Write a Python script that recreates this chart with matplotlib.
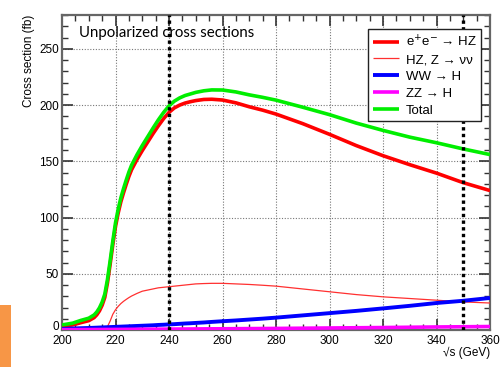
import numpy as np
import matplotlib
matplotlib.use("Agg")
import matplotlib.pyplot as plt
import matplotlib.transforms as mtransforms
from matplotlib.ticker import MultipleLocator
from matplotlib.patches import Rectangle

# Centre-of-mass energy grid (GeV)
sqrt_s = [200, 204, 207, 210, 212, 213, 214, 215, 216, 217,
          218, 219, 220, 221, 222, 223, 224, 225, 226, 228,
          230, 232, 234, 236, 238, 240, 242, 244, 246, 248,
          250, 253, 256, 260, 265, 270, 275, 280, 290, 300,
          310, 320, 330, 340, 350, 360]

# Cross sections (fb)
xs_hz = [3.2, 4.5, 6.5, 8.3, 11.0, 13.5, 17.0, 22.0, 29.0, 42.0,
         58.5, 76.0, 92.0, 104.0, 114.0, 122.0, 129.5, 136.5, 142.5, 151.5,
         159.5, 167.0, 174.5, 181.5, 188.0, 193.5, 197.5, 200.0, 201.8, 203.0,
         204.0, 205.0, 205.2, 204.5, 202.0, 198.5, 195.5, 192.0, 183.5, 174.0,
         164.0, 155.0, 147.0, 139.5, 131.0, 124.0]
xs_hz_nunu = [np.nan, np.nan, np.nan, np.nan, np.nan, np.nan, np.nan, np.nan, 0.5, 3.0,
              8.0, 14.0, 18.0, 21.0, 23.5, 25.5, 27.2, 28.8, 30.2, 32.5,
              34.5, 35.5, 36.5, 37.5, 38.0, 38.5, 39.0, 39.5, 40.0, 40.5,
              41.0, 41.3, 41.5, 41.5, 41.0, 40.5, 39.8, 39.0, 36.5, 34.0,
              31.5, 29.5, 28.0, 26.5, 25.0, 24.0]
xs_ww = [1.0, 1.3, 1.6, 1.8, 2.0, 2.1, 2.2, 2.3, 2.4, 2.5,
         2.6, 2.7, 2.8, 2.9, 3.0, 3.1, 3.2, 3.3, 3.4, 3.6,
         3.8, 4.0, 4.2, 4.5, 4.7, 5.0, 5.2, 5.5, 5.8, 6.0,
         6.3, 6.7, 7.2, 7.8, 8.5, 9.3, 10.1, 11.0, 13.0, 15.0,
         17.0, 19.2, 21.5, 24.0, 26.0, 28.5]
xs_zz = [0.30, 0.33, 0.36, 0.40, 0.42, 0.43, 0.45, 0.46, 0.47, 0.48,
         0.49, 0.50, 0.50, 0.52, 0.54, 0.55, 0.57, 0.58, 0.60, 0.64,
         0.67, 0.70, 0.73, 0.76, 0.78, 0.80, 0.83, 0.86, 0.89, 0.92,
         0.95, 1.00, 1.05, 1.10, 1.18, 1.25, 1.32, 1.40, 1.60, 1.80,
         2.00, 2.20, 2.45, 2.70, 2.90, 3.10]
xs_total = [4.5, 6.1, 8.5, 10.5, 13.4, 16.0, 19.7, 24.8, 31.9, 45.0,
            61.6, 79.2, 95.3, 107.4, 117.5, 125.7, 133.3, 140.4, 146.5, 155.7,
            164.0, 171.7, 179.4, 186.8, 193.5, 199.3, 203.5, 206.4, 208.5, 209.9,
            211.3, 212.7, 213.5, 213.4, 211.7, 209.1, 206.9, 204.4, 198.1, 191.5,
            184.0, 177.5, 171.5, 166.5, 161.0, 156.0]

# Reference energies marked with vertical lines
marked_energies = [240, 350]

x_ticks = [200, 220, 240, 260, 280, 300, 320, 340, 360]
y_ticks = [0, 50, 100, 150, 200, 250]

plt.rcParams['font.family'] = ['Liberation Sans', 'DejaVu Sans']

fig = plt.figure(figsize=(5.0, 3.67), dpi=100)
ax = fig.add_axes([0.124, 0.1008, 0.856, 0.858])

ax.set_xlim(200, 360)
ax.set_ylim(0, 280)

ax.grid(True, which='major', color='#777777', linestyle=(0, (1, 1.5)), linewidth=0.8)
ax.set_axisbelow(True)

line_kw = dict(solid_joinstyle='round', solid_capstyle='butt')
ax.plot(sqrt_s, xs_hz, color='#ff0000', lw=2.6, label=r'e$^{+}$e$^{-}$ → HZ', zorder=3, **line_kw)
ax.plot(sqrt_s, xs_hz_nunu, color='#ff3030', lw=0.9, label=r'HZ, Z → νν', zorder=3, **line_kw)
ax.plot(sqrt_s, xs_ww, color='#0000ff', lw=2.8, label='WW → H', zorder=3, **line_kw)
ax.plot(sqrt_s, xs_zz, color='#ff00ff', lw=2.6, label='ZZ → H', zorder=3, **line_kw)
ax.plot(sqrt_s, xs_total, color='#00ee00', lw=2.6, label='Total', zorder=4, **line_kw)

for e in marked_energies:
    ax.axvline(e, color='black', lw=2.4, linestyle=(0, (1, 1)), zorder=5)

ax.set_xticks(x_ticks)
ax.set_yticks(y_ticks)
ax.xaxis.set_minor_locator(MultipleLocator(5))
ax.yaxis.set_minor_locator(MultipleLocator(10))
ax.tick_params(which='both', direction='in', top=True, right=True,
               color='#333333', labelsize=8.5, pad=2)
ax.tick_params(which='major', length=8, width=1.2)
ax.tick_params(which='minor', length=4.5, width=1.0)
ax.tick_params(axis='x', pad=3.5)

# Lift the "0" label a little so it sits above the first x label
zero_label = ax.yaxis.get_major_ticks()[0].label1
zero_label.set_transform(zero_label.get_transform() +
                         mtransforms.ScaledTranslation(0, 3 / 72, fig.dpi_scale_trans))

for sp in ax.spines.values():
    sp.set_color('#666666')
    sp.set_linewidth(1.6)

ax.set_ylabel('Cross section (fb)', loc='top', fontsize=8.5, labelpad=3)
ax.set_xlabel('√s (GeV)', loc='right', fontsize=8.5, labelpad=0)

ax.text(0.04, 0.965, 'Unpolarized cross sections', transform=ax.transAxes,
        ha='left', va='top', fontsize=10.8, family=['Lato', 'DejaVu Sans'])

leg = ax.legend(loc='upper right', bbox_to_anchor=(0.98, 0.955), fontsize=9.5,
                frameon=True, fancybox=False, handlelength=2.0,
                handletextpad=0.5, labelspacing=0.35, borderpad=0.35,
                borderaxespad=0.0)
leg.get_frame().set_edgecolor('#222222')
leg.get_frame().set_linewidth(1.0)
leg.get_frame().set_alpha(1.0)
leg.set_zorder(10)

# Orange tab at the lower left edge
fig.patches.append(Rectangle((0.0, 0.0), 11 / 500, 62 / 367, transform=fig.transFigure,
                             facecolor='#f79646', edgecolor='none'))

fig.savefig('out.png', dpi=100)
